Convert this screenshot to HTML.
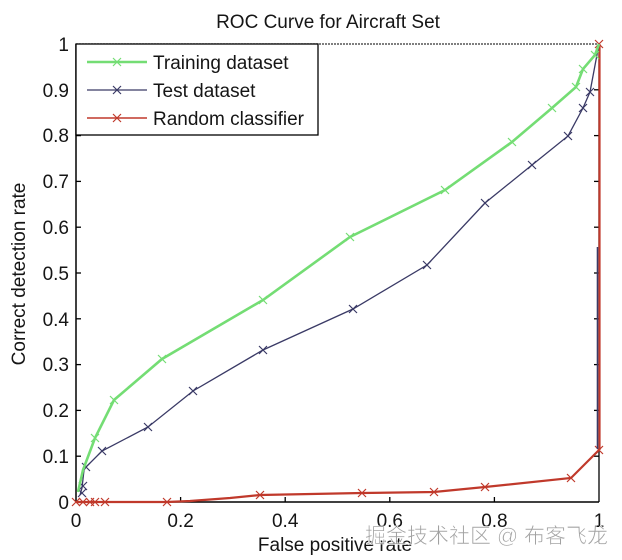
<!DOCTYPE html>
<html><head><meta charset="utf-8"><style>
html,body{margin:0;padding:0;background:#fff;}
svg{display:block;}
text{font-family:"Liberation Sans",Arial,sans-serif;fill:#151515;}
</style></head><body>
<svg width="622" height="560" viewBox="0 0 622 560" xmlns="http://www.w3.org/2000/svg">
<defs>
<symbol id="xm" viewBox="-5 -5 10 10" overflow="visible">
<path d="M-4,-4L4,4M-4,4L4,-4" stroke-width="1.2" fill="none"/>
</symbol>
</defs>
<rect width="622" height="560" fill="#fff"/>
<text x="328" y="28" font-size="19" text-anchor="middle">ROC Curve for Aircraft Set</text>
<!-- axes -->
<line x1="76" y1="44" x2="599" y2="44" stroke="#333" stroke-width="1.3" stroke-dasharray="2,1"/>
<line x1="76" y1="44" x2="76" y2="502" stroke="#000" stroke-width="1.5"/>
<line x1="76" y1="502" x2="599" y2="502" stroke="#000" stroke-width="1.5"/>
<line x1="599" y1="44" x2="599" y2="502" stroke="#000" stroke-width="1.3"/>
<!-- ticks -->
<g stroke="#000" stroke-width="1.3">
<line x1="76" y1="456.2" x2="81" y2="456.2"/><line x1="76" y1="410.4" x2="81" y2="410.4"/>
<line x1="76" y1="364.6" x2="81" y2="364.6"/><line x1="76" y1="318.8" x2="81" y2="318.8"/>
<line x1="76" y1="273" x2="81" y2="273"/><line x1="76" y1="227.2" x2="81" y2="227.2"/>
<line x1="76" y1="181.4" x2="81" y2="181.4"/><line x1="76" y1="135.6" x2="81" y2="135.6"/>
<line x1="594" y1="456.2" x2="599" y2="456.2"/><line x1="594" y1="410.4" x2="599" y2="410.4"/>
<line x1="594" y1="364.6" x2="599" y2="364.6"/><line x1="594" y1="318.8" x2="599" y2="318.8"/>
<line x1="594" y1="273" x2="599" y2="273"/><line x1="594" y1="227.2" x2="599" y2="227.2"/>
<line x1="594" y1="181.4" x2="599" y2="181.4"/><line x1="594" y1="135.6" x2="599" y2="135.6"/>
<line x1="594" y1="89.8" x2="599" y2="89.8"/>
<line x1="180.6" y1="502" x2="180.6" y2="497"/><line x1="285.2" y1="502" x2="285.2" y2="497"/>
<line x1="389.8" y1="502" x2="389.8" y2="497"/><line x1="494.4" y1="502" x2="494.4" y2="497"/>
</g>
<g font-size="19" text-anchor="end">
<text x="69" y="51">1</text><text x="69" y="97">0.9</text><text x="69" y="142">0.8</text>
<text x="69" y="188">0.7</text><text x="69" y="234">0.6</text><text x="69" y="280">0.5</text>
<text x="69" y="326">0.4</text><text x="69" y="371">0.3</text><text x="69" y="417">0.2</text>
<text x="69" y="463">0.1</text><text x="69" y="509">0</text>
</g>
<g font-size="19" text-anchor="middle">
<text x="76" y="527">0</text><text x="180.6" y="527">0.2</text><text x="285.2" y="527">0.4</text>
<text x="389.8" y="527">0.6</text><text x="494.4" y="527">0.8</text><text x="599" y="527">1</text>
</g>
<text x="335" y="551" font-size="19" text-anchor="middle">False positive rate</text>
<text transform="translate(25,274) rotate(-90)" font-size="19" text-anchor="middle">Correct detection rate</text>
<!-- random -->
<g stroke="#c0392b">
<polyline fill="none" stroke-width="2.2" points="76,502 83,502 90,502 95,502 105,502 167,502 190,501 230,498 260,495 362,493 434,492 485,487 571,478 599,450"/>
<line x1="599.5" y1="44" x2="599.5" y2="450" stroke-width="2.2"/>
<g fill="none" stroke-width="1.3">
<use href="#xm" x="71" y="497" width="10" height="10"/><use href="#xm" x="78" y="497" width="10" height="10"/>
<use href="#xm" x="85" y="497" width="10" height="10"/><use href="#xm" x="90" y="497" width="10" height="10"/>
<use href="#xm" x="100" y="497" width="10" height="10"/><use href="#xm" x="162" y="497" width="10" height="10"/>
<use href="#xm" x="255" y="490" width="10" height="10"/><use href="#xm" x="357" y="488" width="10" height="10"/>
<use href="#xm" x="429" y="487" width="10" height="10"/><use href="#xm" x="480" y="482" width="10" height="10"/>
<use href="#xm" x="566" y="473" width="10" height="10"/><use href="#xm" x="594" y="445" width="10" height="10"/>
<use href="#xm" x="594" y="39" width="10" height="10"/>
</g>
</g>
<!-- test -->
<g stroke="#3a3a66">
<polyline fill="none" stroke-width="1.3" points="80,495 82,488 84,470 86,467 102,451 148,427 193,391 263,350 353,309 427,265 485,203 532,165 568,136 583,108 590,92 599,44"/>
<line x1="597.5" y1="247" x2="597.5" y2="449" stroke-width="1.6"/>
<g fill="none">
<use href="#xm" x="77" y="488" width="10" height="10"/><use href="#xm" x="78" y="481" width="10" height="10"/>
<use href="#xm" x="81" y="462" width="10" height="10"/><use href="#xm" x="97" y="446" width="10" height="10"/>
<use href="#xm" x="143" y="422" width="10" height="10"/><use href="#xm" x="188" y="386" width="10" height="10"/>
<use href="#xm" x="258" y="345" width="10" height="10"/><use href="#xm" x="348" y="304" width="10" height="10"/>
<use href="#xm" x="422" y="260" width="10" height="10"/><use href="#xm" x="480" y="198" width="10" height="10"/>
<use href="#xm" x="527" y="160" width="10" height="10"/><use href="#xm" x="563" y="131" width="10" height="10"/>
<use href="#xm" x="578" y="103" width="10" height="10"/><use href="#xm" x="585" y="87" width="10" height="10"/>
</g>
</g>
<!-- training -->
<g stroke="#74dd74">
<polyline fill="none" stroke-width="2.6" points="78,492 83,470 95,438 114,400 162,359 263,300 350,237 445,190 512,142 552,108 576,87 583,69 595,55 599,44"/>
<g fill="none" stroke-width="1.6">
<use href="#xm" x="90" y="433" width="10" height="10"/><use href="#xm" x="109" y="395" width="10" height="10"/>
<use href="#xm" x="157" y="354" width="10" height="10"/><use href="#xm" x="258" y="295" width="10" height="10"/>
<use href="#xm" x="345" y="232" width="10" height="10"/><use href="#xm" x="440" y="185" width="10" height="10"/>
<use href="#xm" x="507" y="137" width="10" height="10"/><use href="#xm" x="547" y="103" width="10" height="10"/>
<use href="#xm" x="571" y="82" width="10" height="10"/><use href="#xm" x="578" y="64" width="10" height="10"/>
<use href="#xm" x="590" y="50" width="10" height="10"/>
</g>
</g>
<!-- legend -->
<rect x="76" y="44" width="242" height="91" fill="#fff" stroke="#000" stroke-width="1.3"/>
<line x1="87" y1="62" x2="147" y2="62" stroke="#74dd74" stroke-width="2.6"/>
<use href="#xm" x="112" y="57" width="10" height="10" stroke="#74dd74" fill="none"/>
<line x1="87" y1="90" x2="147" y2="90" stroke="#3a3a66" stroke-width="1.3"/>
<use href="#xm" x="112" y="85" width="10" height="10" stroke="#3a3a66" fill="none"/>
<line x1="87" y1="118" x2="147" y2="118" stroke="#c0392b" stroke-width="1.5"/>
<use href="#xm" x="112" y="113" width="10" height="10" stroke="#c0392b" fill="none"/>
<g font-size="19">
<text x="153" y="69">Training dataset</text>
<text x="153" y="97">Test dataset</text>
<text x="153" y="125">Random classifier</text>
</g>
<!-- watermark -->
<text x="365" y="543" font-size="21" style="font-family:'Liberation Sans','Noto Sans CJK SC',sans-serif;fill:#888;fill-opacity:0.8;stroke:#fff;stroke-width:0.6;">掘金技术社区 @ 布客飞龙</text>
</svg>
</body></html>
